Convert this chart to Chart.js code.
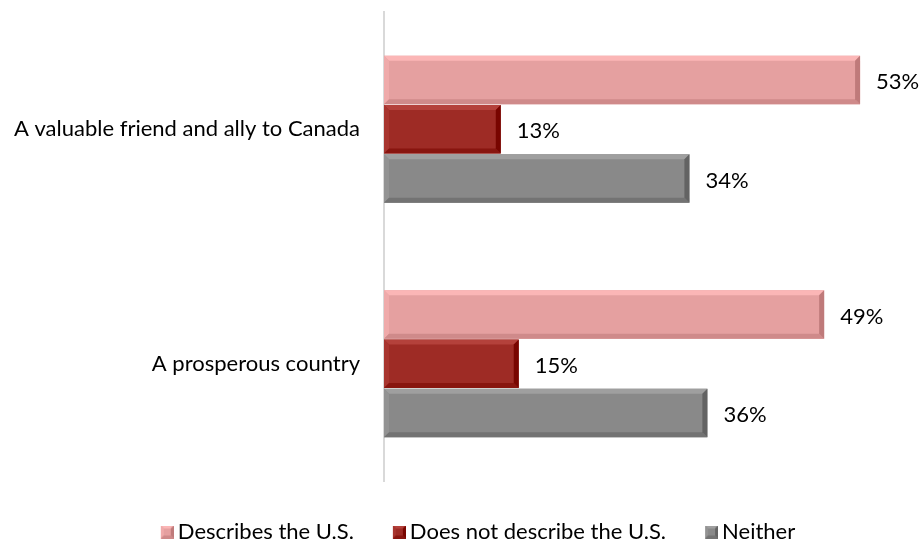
<!DOCTYPE html>
<html>
<head>
<meta charset="utf-8">
<script src="https://cdn.jsdelivr.net/npm/chart.js@4.4.0/dist/chart.umd.min.js"></script>
<style>
  html, body { margin: 0; padding: 0; background: #fff; }
</style>
</head>
<body>
<canvas id="chart" width="920" height="541"></canvas>
<script>
// data
const categories = ['A valuable friend and ally to Canada', 'A prosperous country'];
const describes = [53, 49];
const notDescribe = [13, 15];
const neither = [34, 36];
const seriesNames = ['Describes the U.S.', 'Does not describe the U.S.', 'Neither'];
const seriesColors = ['#E5A0A0', '#9E2B25', '#898989'];

const FONT = 'Lato';
const FONT_SIZE = 22;

function shade(hex, amt) {
  const n = parseInt(hex.slice(1), 16);
  const c = [n >> 16, (n >> 8) & 255, n & 255].map(v => Math.max(0, Math.min(255, Math.round(v + amt))));
  return 'rgb(' + c.join(',') + ')';
}

// bevelled box, like the Excel 3-D bar format
function bevel(ctx, l, t, r, b, color, s) {
  const poly = (pts, fill) => {
    ctx.beginPath();
    ctx.moveTo(pts[0][0], pts[0][1]);
    for (let i = 1; i < pts.length; i++) ctx.lineTo(pts[i][0], pts[i][1]);
    ctx.closePath();
    ctx.fillStyle = fill;
    ctx.fill();
  };
  poly([[l, t], [r, t], [r - s, t + s], [l + s, t + s]], shade(color, 22));
  poly([[l, t], [l + s, t + s], [l + s, b - s], [l, b]], shade(color, 10));
  poly([[l, b], [l + s, b - s], [r - s, b - s], [r, b]], shade(color, -22));
  poly([[r, t], [r, b], [r - s, b - s], [r - s, t + s]], shade(color, -38));
}

function swatch(color) {
  const c = document.createElement('canvas');
  c.width = 19;
  c.height = 13;
  const ctx = c.getContext('2d');
  ctx.fillStyle = color;
  ctx.fillRect(6, 0, 13, 13);
  bevel(ctx, 6, 0, 19, 13, color, 3);
  return c;
}
const swatches = seriesColors.map(swatch);

const bevelPlugin = {
  id: 'bevel',
  afterDatasetsDraw(chart) {
    const ctx = chart.ctx;
    chart.data.datasets.forEach((ds, i) => {
      chart.getDatasetMeta(i).data.forEach(bar => {
        const p = bar.getProps(['x', 'y', 'base', 'height'], true);
        ctx.save();
        bevel(ctx, p.base, p.y - p.height / 2, p.x, p.y + p.height / 2, seriesColors[i], 5);
        ctx.restore();
      });
    });
  }
};

const valueLabels = {
  id: 'valueLabels',
  afterDatasetsDraw(chart) {
    const ctx = chart.ctx;
    ctx.save();
    ctx.font = FONT_SIZE + 'px ' + FONT;
    ctx.fillStyle = '#000';
    ctx.textAlign = 'left';
    ctx.textBaseline = 'middle';
    chart.data.datasets.forEach((ds, i) => {
      chart.getDatasetMeta(i).data.forEach((bar, j) => {
        ctx.fillText(ds.data[j] + '%', bar.x + 16, bar.y + 2);
      });
    });
    ctx.restore();
  }
};

// legend is centred a little right of the canvas middle in the original
const legendShift = {
  id: 'legendShift',
  afterLayout(chart) {
    chart.legend.left = 52;
  }
};

new Chart(document.getElementById('chart'), {
  type: 'bar',
  data: {
    labels: categories,
    datasets: [
      { label: seriesNames[0], data: describes, backgroundColor: seriesColors[0] },
      { label: seriesNames[1], data: notDescribe, backgroundColor: seriesColors[1] },
      { label: seriesNames[2], data: neither, backgroundColor: seriesColors[2] }
    ]
  },
  options: {
    indexAxis: 'y',
    responsive: false,
    animation: false,
    datasets: { bar: { barPercentage: 0.98, categoryPercentage: 0.63, borderWidth: 0 } },
    layout: { padding: { top: 12, right: 15, left: 0, bottom: -12 } },
    scales: {
      x: { display: false, min: 0, max: 58 },
      y: {
        afterFit(scale) {
          scale.width = 384;
          scale.paddingTop = 0;
          scale.paddingBottom = 0;
        },
        grid: { display: false, drawTicks: false },
        border: { display: true, color: '#d9d9d9', width: 2 },
        ticks: { color: '#000', padding: 24, font: { family: FONT, size: FONT_SIZE } }
      }
    },
    plugins: {
      tooltip: { enabled: false },
      legend: {
        position: 'bottom',
        labels: {
          usePointStyle: true,
          boxWidth: 5,
          padding: 40,
          color: '#000',
          font: { family: FONT, size: FONT_SIZE },
          generateLabels(chart) {
            const items = Chart.defaults.plugins.legend.labels.generateLabels(chart);
            items.forEach((it, i) => { it.pointStyle = swatches[i]; });
            return items;
          }
        }
      }
    }
  },
  plugins: [bevelPlugin, valueLabels, legendShift]
});
</script>
</body>
</html>
